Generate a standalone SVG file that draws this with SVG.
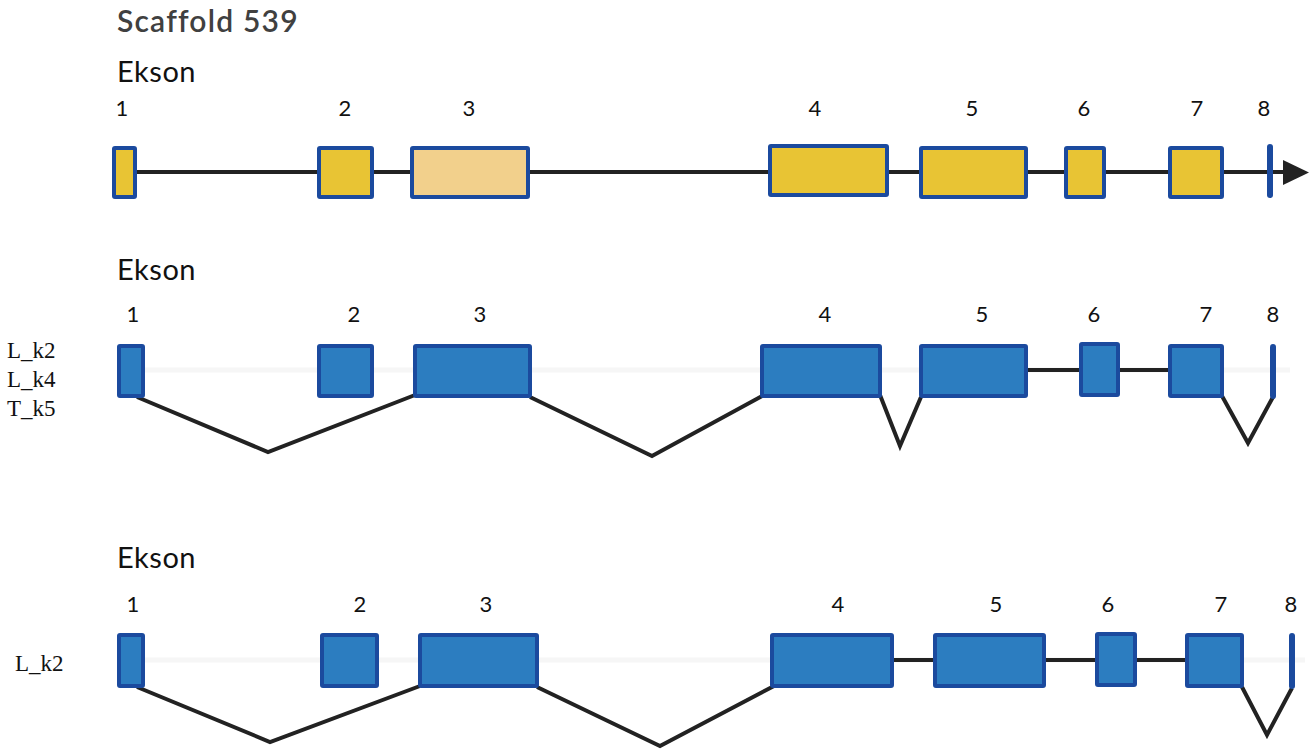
<svg xmlns="http://www.w3.org/2000/svg" width="1310" height="749" viewBox="0 0 1310 749">
  <style>
    .title { font-family: Lato, "Open Sans", sans-serif; font-size: 30px; font-weight: 600; fill: #404040; letter-spacing: 1.2px; }
    .head { font-family: Lato, "Open Sans", sans-serif; font-size: 29px; fill: #111; letter-spacing: 0.5px; }
    .num { font-family: Lato, "Open Sans", sans-serif; font-size: 22px; fill: #111; text-anchor: middle; }
    .iso { font-family: "Liberation Serif", serif; font-size: 23px; fill: #111; }
    .ey { fill: #E8C434; stroke: #1B4A9E; stroke-width: 4; }
    .el { fill: #F2D08C; stroke: #1B4A9E; stroke-width: 4; }
    .eb { fill: #2C7DC0; stroke: #1B4A9E; stroke-width: 4; }
    .bar { stroke: #1B4A9E; stroke-width: 6; stroke-linecap: round; }
    .intron { fill: none; stroke: #222; stroke-width: 4; stroke-linejoin: miter; }
    .guide { stroke: #f6f6f6; stroke-width: 5; }
  </style>

  <!-- headings -->
  <text class="title" x="117" y="32">Scaffold 539</text>
  <text class="head" x="117" y="82">Ekson</text>
  <text class="head" x="117" y="280">Ekson</text>
  <text class="head" x="117" y="568">Ekson</text>

  <!-- isoform labels -->
  <text class="iso" x="7" y="358">L_k2</text>
  <text class="iso" x="7" y="387">L_k4</text>
  <text class="iso" x="7" y="416">T_k5</text>
  <text class="iso" x="15" y="671">L_k2</text>

  <!-- exon numbers -->
  <g id="numbers">
    <text class="num" x="122" y="116">1</text>
    <text class="num" x="345" y="116">2</text>
    <text class="num" x="469" y="116">3</text>
    <text class="num" x="815" y="116">4</text>
    <text class="num" x="972" y="116">5</text>
    <text class="num" x="1084" y="116">6</text>
    <text class="num" x="1197" y="116">7</text>
    <text class="num" x="1264" y="116">8</text>

    <text class="num" x="133" y="322">1</text>
    <text class="num" x="354" y="322">2</text>
    <text class="num" x="480" y="322">3</text>
    <text class="num" x="825" y="322">4</text>
    <text class="num" x="982" y="322">5</text>
    <text class="num" x="1094" y="322">6</text>
    <text class="num" x="1206" y="322">7</text>
    <text class="num" x="1273" y="322">8</text>

    <text class="num" x="133" y="612">1</text>
    <text class="num" x="360" y="612">2</text>
    <text class="num" x="486" y="612">3</text>
    <text class="num" x="838" y="612">4</text>
    <text class="num" x="996" y="612">5</text>
    <text class="num" x="1108" y="612">6</text>
    <text class="num" x="1221" y="612">7</text>
    <text class="num" x="1291" y="612">8</text>
  </g>

  <!-- faint guide lines behind isoforms -->
  <line class="guide" x1="143" y1="370" x2="1290" y2="370"/>
  <line class="guide" x1="143" y1="660" x2="1305" y2="660"/>

  <!-- connectors -->
  <g id="connectors">
    <line class="intron" x1="135" y1="172" x2="1285" y2="172"/>
    <polygon points="1283,160 1309,172.5 1283,185" fill="#222"/>

    <polyline class="intron" points="137,397 268,452 415,395"/>
    <polyline class="intron" points="530,397 652,456 764,395"/>
    <polyline class="intron" points="880,395 900,446 921,397"/>
    <line class="intron" x1="1026" y1="370" x2="1081" y2="370"/>
    <line class="intron" x1="1118" y1="370" x2="1170" y2="370"/>
    <polyline class="intron" points="1222,396 1248,443 1273,397"/>

    <polyline class="intron" points="137,687 270,742 420,686"/>
    <polyline class="intron" points="537,687 660,746 774,686"/>
    <line class="intron" x1="892" y1="660" x2="935" y2="660"/>
    <line class="intron" x1="1044" y1="660" x2="1097" y2="660"/>
    <line class="intron" x1="1135" y1="660" x2="1187" y2="660"/>
    <polyline class="intron" points="1242,687 1267,735 1292,688"/>
  </g>

  <!-- scaffold gene model -->
  <g id="scaffold">
    <rect id="s-e1" class="ey" x="114" y="148" width="21" height="49" rx="1"/>
    <rect id="s-e2" class="ey" x="319" y="148" width="53" height="49" rx="1"/>
    <rect id="s-e3" class="el" x="412" y="148" width="116" height="49" rx="1"/>
    <rect id="s-e4" class="ey" x="770" y="146" width="117" height="49" rx="1"/>
    <rect id="s-e5" class="ey" x="921" y="148" width="105" height="49" rx="1"/>
    <rect id="s-e6" class="ey" x="1066" y="148" width="38" height="49" rx="1"/>
    <rect id="s-e7" class="ey" x="1170" y="148" width="52" height="49" rx="1"/>
    <line id="s-e8" class="bar" x1="1270" y1="147" x2="1270" y2="195"/>
  </g>

  <!-- isoforms L_k2 / L_k4 / T_k5 -->
  <g id="isoform-a">
    <rect id="a-e1" class="eb" x="119" y="346" width="24" height="50" rx="1"/>
    <rect id="a-e2" class="eb" x="319" y="346" width="53" height="50" rx="1"/>
    <rect id="a-e3" class="eb" x="415" y="346" width="115" height="50" rx="1"/>
    <rect id="a-e4" class="eb" x="762" y="346" width="118" height="50" rx="1"/>
    <rect id="a-e5" class="eb" x="921" y="346" width="105" height="50" rx="1"/>
    <rect id="a-e6" class="eb" x="1081" y="344" width="37" height="51" rx="1"/>
    <rect id="a-e7" class="eb" x="1170" y="346" width="52" height="50" rx="1"/>
    <line id="a-e8" class="bar" x1="1273" y1="347" x2="1273" y2="396"/>
  </g>

  <!-- isoform L_k2 -->
  <g id="isoform-b">
    <rect id="b-e1" class="eb" x="119" y="635" width="24" height="51" rx="1"/>
    <rect id="b-e2" class="eb" x="322" y="635" width="55" height="51" rx="1"/>
    <rect id="b-e3" class="eb" x="420" y="635" width="117" height="51" rx="1"/>
    <rect id="b-e4" class="eb" x="772" y="635" width="120" height="51" rx="1"/>
    <rect id="b-e5" class="eb" x="935" y="635" width="109" height="51" rx="1"/>
    <rect id="b-e6" class="eb" x="1097" y="634" width="38" height="51" rx="1"/>
    <rect id="b-e7" class="eb" x="1187" y="635" width="55" height="51" rx="1"/>
    <line id="b-e8" class="bar" x1="1292" y1="636" x2="1292" y2="686"/>
  </g>
</svg>
